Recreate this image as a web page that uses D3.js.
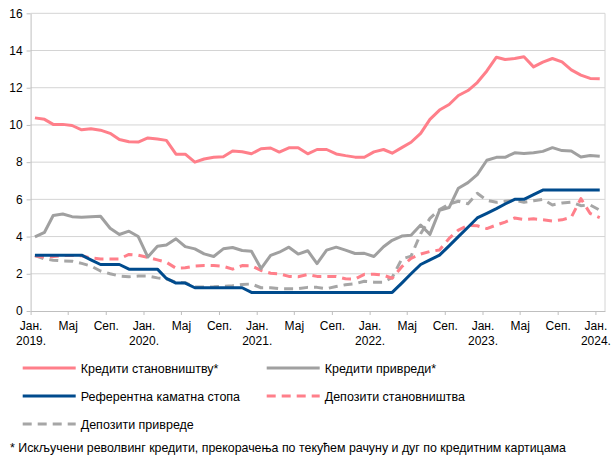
<!DOCTYPE html>
<html>
<head>
<meta charset="utf-8">
<script src="https://cdn.jsdelivr.net/npm/d3@7"></script>
<style>
  body{margin:0;background:#fff;}
  svg{font-family:"Liberation Sans",Arial,sans-serif;}
</style>
</head>
<body>
<div id="chart"></div>
<script>
// monthly data, Jan 2019 .. Jan 2024 (61 months)
const startMonth=new Date(2019,0,15);
const monthNames=["Јан.","Мај","Сеп."];
const yTicks=[0,2,4,6,8,10,12,14,16];

const loansHouseholds=[10.38,10.3,10.03,10.03,9.97,9.74,9.8,9.72,9.55,9.22,9.1,9.08,
  9.3,9.24,9.17,8.43,8.43,8.0,8.17,8.26,8.29,8.6,8.56,8.45,
  8.72,8.76,8.54,8.77,8.77,8.45,8.68,8.68,8.44,8.35,8.27,8.26,
  8.55,8.68,8.48,8.78,9.07,9.55,10.3,10.8,11.1,11.58,11.85,12.28,
  12.9,13.64,13.52,13.57,13.66,13.12,13.38,13.57,13.39,12.96,12.68,12.5,
  12.48];
const loansCorporate=[3.98,4.23,5.13,5.21,5.07,5.04,5.07,5.09,4.45,4.11,4.29,4.0,
  2.9,3.48,3.55,3.88,3.46,3.34,3.07,2.93,3.34,3.41,3.25,3.21,
  2.28,2.99,3.16,3.43,3.06,3.24,2.55,3.27,3.43,3.27,3.09,3.1,
  2.93,3.45,3.8,4.03,4.07,4.62,4.12,5.41,5.56,6.6,6.9,7.33,
  8.1,8.26,8.26,8.5,8.46,8.5,8.58,8.78,8.62,8.6,8.28,8.36,
  8.32];
const policyRate=[3,3,3,3,3,3,2.75,2.5,2.5,2.5,2.25,2.25,
  2.25,2.25,1.75,1.5,1.5,1.25,1.25,1.25,1.25,1.25,1.25,1.0,
  1,1,1,1,1,1,1,1,1,1,1,1,
  1,1,1,1.5,2.0,2.5,2.75,3.0,3.5,4.0,4.5,5.0,
  5.25,5.5,5.75,6.0,6.0,6.25,6.5,6.5,6.5,6.5,6.5,6.5,
  6.5];
const depositsHouseholds=[2.97,2.9,2.93,2.98,2.98,2.97,2.85,2.8,2.8,2.8,3.04,3.0,
  2.88,2.75,2.62,2.3,2.32,2.42,2.45,2.44,2.4,2.25,2.44,2.43,
  2.18,2.03,2.0,1.86,1.84,1.96,1.86,1.86,1.86,1.73,1.72,1.97,
  1.98,1.92,1.76,2.38,2.83,3.06,3.2,3.28,3.9,4.35,4.6,4.58,
  4.43,4.62,4.78,5.0,4.92,4.96,4.9,4.84,4.9,5.04,6.04,5.24,
  5.02];
const depositsCorporate=[2.98,2.8,2.73,2.69,2.68,2.56,2.42,2.15,2.0,1.88,1.84,1.88,
  1.88,1.78,1.72,1.55,1.52,1.29,1.29,1.3,1.33,1.36,1.43,1.45,
  1.25,1.25,1.2,1.2,1.2,1.27,1.27,1.2,1.32,1.41,1.46,1.6,
  1.55,1.55,1.8,2.8,2.95,4.15,4.98,5.45,5.75,5.9,5.76,6.33,
  5.95,5.84,5.9,5.95,5.84,5.92,6.0,5.7,5.8,5.85,5.66,5.7,
  5.42];

const series=[
  {name:"Кредити становништву*",values:loansHouseholds,color:"#ff7f8a",dash:null},
  {name:"Кредити привреди*",values:loansCorporate,color:"#a0a0a0",dash:null},
  {name:"Референтна каматна стопа",values:policyRate,color:"#004b8d",dash:null},
  {name:"Депозити становништва",values:depositsHouseholds,color:"#ff7f8a",dash:"9,6"},
  {name:"Депозити привреде",values:depositsCorporate,color:"#a6a6a6",dash:"9,6"}
];

const width=615,height=456;
const plotLeft=30.6,plotRight=605,plotTop=13.3,plotBottom=311;

const svg=d3.select("#chart").append("svg")
  .attr("width",width).attr("height",height);

const x=d3.scaleTime()
  .domain([new Date(2019,0,1),new Date(2024,1,1)])
  .range([plotLeft,plotRight]);
const y=d3.scaleLinear().domain([0,16]).range([plotBottom,plotTop]);

// gridlines
svg.append("g").selectAll("line").data(yTicks.filter(d=>d>0)).enter()
  .append("line")
  .attr("x1",plotLeft).attr("x2",plotRight)
  .attr("y1",d=>y(d)).attr("y2",d=>y(d))
  .attr("stroke","#d4d4d4").attr("stroke-width",1);
// right border
svg.append("line").attr("x1",plotRight).attr("x2",plotRight).attr("y1",plotTop).attr("y2",plotBottom)
  .attr("stroke","#d4d4d4");

// y axis
const yAxis=svg.append("g").attr("transform",`translate(${plotLeft},0)`)
  .call(d3.axisLeft(y).tickValues(yTicks).tickSize(4).tickSizeOuter(0));
yAxis.select(".domain").attr("stroke","#bfbfbf");
yAxis.selectAll(".tick line").attr("stroke","#bfbfbf");
yAxis.selectAll("text").attr("font-size","12px").attr("fill","#000").attr("x",-8);
yAxis.attr("font-family",null);

// x axis
const xTicks=d3.timeMonth.every(4).range(new Date(2019,0,1),new Date(2024,0,2));
const xAxis=svg.append("g").attr("transform",`translate(0,${plotBottom})`)
  .call(d3.axisBottom(x).tickValues(xTicks).tickSize(4).tickSizeOuter(0).tickFormat(""));
xAxis.select(".domain").attr("stroke","#bfbfbf");
xAxis.selectAll(".tick line").attr("stroke","#bfbfbf");
xAxis.attr("font-family",null);
const xl=xAxis.selectAll(".tick").append("text")
  .attr("fill","#000").attr("font-size","12px").attr("text-anchor","middle");
xl.append("tspan").attr("x",0).attr("y",19)
  .text(d=>monthNames[d.getMonth()/4]);
xl.filter(d=>d.getMonth()===0).append("tspan").attr("x",0).attr("y",34)
  .text(d=>d.getFullYear()+".");

// lines
const line=d3.line()
  .x((d,i)=>x(d3.timeMonth.offset(startMonth,i)))
  .y(d=>y(d));
const order=[4,3,1,2,0];
order.forEach(k=>{
  const s=series[k];
  svg.append("path").datum(s.values)
    .attr("d",line)
    .attr("fill","none")
    .attr("stroke",s.color)
    .attr("stroke-width",3)
    .attr("stroke-linejoin","round")
    .attr("stroke-dasharray",s.dash);
});

// legend
const legendPos=[[22.7,368],[266.7,368],[22.7,396],[266.7,396],[22.7,424]];
series.forEach((s,i)=>{
  const g=svg.append("g").attr("transform",`translate(${legendPos[i][0]},${legendPos[i][1]})`);
  g.append("line").attr("x1",0).attr("x2",53).attr("y1",0).attr("y2",0)
    .attr("stroke",s.color).attr("stroke-width",3)
    .attr("stroke-dasharray",s.dash);
  g.append("text").attr("x",58).attr("y",4.5).attr("font-size","12.5px").attr("fill","#000")
    .text(s.name);
});

// footnote (sits at the very bottom edge, as in the original)
svg.append("text").attr("x",10).attr("y",452).attr("font-size","12.4px").attr("fill","#000")
  .text("* Искључени револвинг кредити, прекорачења по текућем рачуну и дуг по кредитним картицама");
</script>
</body>
</html>
